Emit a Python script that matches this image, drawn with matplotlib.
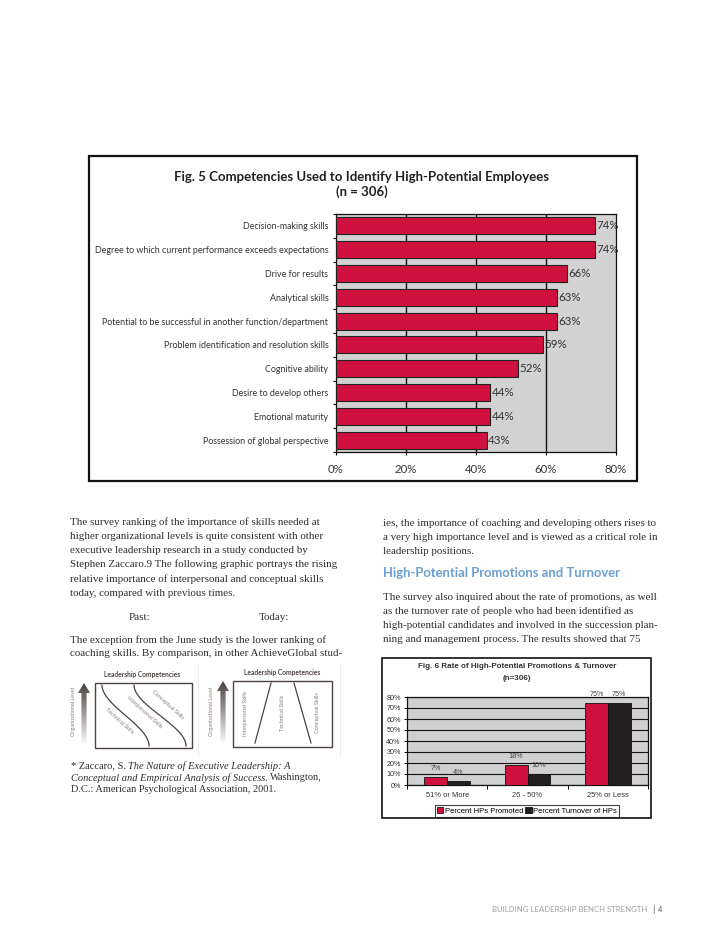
import matplotlib
matplotlib.use('Agg')
import matplotlib.pyplot as plt
import numpy as np
from matplotlib.patches import Rectangle, Polygon

W, H = 728, 942

# ---------------- data ----------------
competencies = [
    "Decision-making skills",
    "Degree to which current performance exceeds expectations",
    "Drive for results",
    "Analytical skills",
    "Potential to be successful in another function/department",
    "Problem identification and resolution skills",
    "Cognitive ability",
    "Desire to develop others",
    "Emotional maturity",
    "Possession of global perspective",
]
competency_pct = [74, 74, 66, 63, 63, 59, 52, 44, 44, 43]
fig5_xticks = [0, 20, 40, 60, 80]
fig5_xticklabels = ["0%", "20%", "40%", "60%", "80%"]

rate_categories = ["51% or More", "26 - 50%", "25% or Less"]
pct_promoted = [7, 18, 75]
pct_turnover = [4, 10, 75]
series_names = ["Percent HPs Promoted", "Percent Turnover of HPs"]
fig6_yticks = [0, 10, 20, 30, 40, 50, 60, 70, 80]
fig6_yticklabels = ["0%", "10%", "20%", "30%", "40%", "50%", "60%", "70%", "80%"]

RED = '#d0103e'
BLK = '#231f20'
TXT = '#2e2e2e'
SERIF = 'Liberation Serif'
BODY = 7.95

fig = plt.figure(figsize=(7.28, 9.42), dpi=100)


def rect(l, t, r, b):
    return [l / W, 1 - b / H, (r - l) / W, (b - t) / H]


# overlay axes in pixel coordinates
ov = fig.add_axes([0, 0, 1, 1], zorder=0)
ov.axis('off')
ov.set_xlim(0, W)
ov.set_ylim(H, 0)

# ---------------- Fig 5 ----------------
ov.add_patch(Rectangle((89, 156), 548, 325, fill=False, lw=1.6, ec='#111'))
ov.text(362, 177, "Fig. 5 Competencies Used to Identify High-Potential Employees",
        ha='center', va='center', fontsize=9.5, fontweight='bold', family='Lato', color='#222')
ov.text(362, 192, "(n = 306)", ha='center', va='center', fontsize=9.5,
        fontweight='bold', family='Lato', color='#222')

ax5 = fig.add_axes(rect(336, 214, 616, 452), zorder=1)
n = len(competencies)
yy = np.arange(n)
ax5.set_facecolor('#d2d2d2')
ax5.barh(yy, competency_pct, height=0.72, color=RED, edgecolor='#222', linewidth=0.8, zorder=3)
ax5.set_ylim(n - 0.5, -0.5)
ax5.set_xlim(0, 80)
for gx in fig5_xticks[1:-1]:
    ax5.axvline(gx, color='#111', lw=1.0, zorder=2)
ax5.set_xticks(fig5_xticks)
ax5.set_xticklabels(fig5_xticklabels, family='Lato', fontsize=8.2, color='#333')
ax5.tick_params(axis='x', length=2.5, width=0.8, pad=6)
ax5.set_yticks(yy)
ax5.set_yticklabels(competencies, fontsize=6.4, family='Lato', color='#333')
ax5.tick_params(axis='y', which='major', length=0, pad=5.5)
ax5.set_yticks(np.arange(n + 1) - 0.5, minor=True)
ax5.tick_params(axis='y', which='minor', length=2.5, width=0.8)
for s in ax5.spines.values():
    s.set_color('#111')
    s.set_linewidth(0.9)
for v, y in zip(competency_pct, yy):
    ax5.text(v + 0.5, y, f"{v}%", va='center', ha='left', fontsize=8.3, family='Lato', color='#333', zorder=4)

# ---------------- body text ----------------
left_lines = [
    "The survey ranking of the importance of skills needed at",
    "higher organizational levels is quite consistent with other",
    "executive leadership research in a study conducted by",
    "Stephen Zaccaro.9 The following graphic portrays the rising",
    "relative importance of interpersonal and conceptual skills",
    "today, compared with previous times.",
]
for i, t in enumerate(left_lines):
    ov.text(70, 522 + i * 14.2, t, ha='left', va='center', fontsize=BODY, family=SERIF, color=TXT)
ov.text(129, 617, "Past:", ha='left', va='center', fontsize=BODY, family=SERIF, color=TXT)
ov.text(259, 617, "Today:", ha='left', va='center', fontsize=BODY, family=SERIF, color=TXT)
for i, t in enumerate(["The exception from the June study is the lower ranking of",
                       "coaching skills. By comparison, in other AchieveGlobal stud-"]):
    ov.text(70, 640 + i * 14, t, ha='left', va='center', fontsize=BODY, family=SERIF, color=TXT)

right_top = [
    "ies, the importance of coaching and developing others rises to",
    "a very high importance level and is viewed as a critical role in",
    "leadership positions.",
]
for i, t in enumerate(right_top):
    ov.text(383, 523 + i * 14, t, ha='left', va='center', fontsize=BODY, family=SERIF, color=TXT)
ov.text(383, 573, "High-Potential Promotions and Turnover", ha='left', va='center',
        fontsize=9.4, family='Lato', fontweight='bold', color='#6a9fcf')
right_bottom = [
    "The survey also inquired about the rate of promotions, as well",
    "as the turnover rate of people who had been identified as",
    "high-potential candidates and involved in the succession plan-",
    "ning and management process. The results showed that 75",
]
for i, t in enumerate(right_bottom):
    ov.text(383, 597 + i * 14.2, t, ha='left', va='center', fontsize=BODY, family=SERIF, color=TXT)

# footnote with italic pieces
renderer = fig.canvas.get_renderer()


def pieces(x, y, parts):
    for txt, style in parts:
        t = ov.text(x, y, txt, ha='left', va='center', fontsize=7.5, family=SERIF,
                    style=style, color=TXT)
        bb = t.get_window_extent(renderer=renderer)
        x += bb.width + 2.4


pieces(71, 766, [("* Zaccaro, S.", 'normal'), ("The Nature of Executive Leadership: A", 'italic')])
pieces(71, 778, [("Conceptual and Empirical Analysis of Success.", 'italic'), ("Washington,", 'normal')])
pieces(71, 790, [("D.C.: American Psychological Association, 2001.", 'normal')])

# ---------------- diagrams ----------------
DC = '#4d4340'
LC = '#8a7f7a'


def grad_arrow(xc, ytip, ybot):
    poly = Polygon([(xc, ytip), (xc + 6, ytip + 10), (xc + 2.6, ytip + 10), (xc + 2.6, ybot),
                    (xc - 2.6, ybot), (xc - 2.6, ytip + 10), (xc - 6, ytip + 10)],
                   closed=True, fc='none', ec='none', transform=ov.transData)
    ov.add_patch(poly)
    g = np.linspace(0, 1, 100).reshape(-1, 1)
    cols = np.zeros((100, 1, 3))
    dark = np.array([0x4a, 0x40, 0x3c]) / 255
    light = np.array([0.97, 0.96, 0.96])
    cols[:, 0, :] = dark * (1 - g) + light * g
    im = ov.imshow(cols, extent=(xc - 6, xc + 6, ybot, ytip), origin='upper', aspect='auto', zorder=1)
    im.set_clip_path(poly)


# left diagram
ov.text(142, 675, "Leadership Competencies", ha='center', va='center', fontsize=4.8,
        fontweight='bold', family='Lato', color=DC)
ov.add_patch(Rectangle((95, 683), 97, 65, fill=False, lw=1.0, ec=DC))
grad_arrow(84, 683, 743)
ov.text(73, 712, "Organizational Level", rotation=90, ha='center', va='center', fontsize=4.0,
        family='Lato', color=LC)
tt = np.linspace(0, 1, 100)
s = 3 * tt ** 2 - 2 * tt ** 3
for (x0, y0, x1, y1) in [(102, 685, 149, 746), (134, 685, 186, 746)]:
    ov.plot(x0 + (x1 - x0) * s, y0 + (y1 - y0) * tt, color=DC, lw=0.9)
ov.text(119, 721, "Technical Skills", rotation=-42, ha='center', va='center', fontsize=4.0,
        family='Lato', color=LC)
ov.text(144, 712, "Interpersonal Skills", rotation=-42, ha='center', va='center', fontsize=4.0,
        family='Lato', color=LC)
ov.text(168, 705, "Conceptual Skills", rotation=-42, ha='center', va='center', fontsize=4.0,
        family='Lato', color=LC)

# right diagram
ov.text(282, 673, "Leadership Competencies", ha='center', va='center', fontsize=4.8,
        fontweight='bold', family='Lato', color=DC)
ov.add_patch(Rectangle((233, 681), 99, 66, fill=False, lw=1.0, ec=DC))
grad_arrow(223, 681, 742)
ov.text(211, 712, "Organizational Level", rotation=90, ha='center', va='center', fontsize=4.0,
        family='Lato', color=LC)
ov.plot([271, 255], [683, 743], color=DC, lw=0.9)
ov.plot([294, 311], [683, 743], color=DC, lw=0.9)
ov.text(245, 713, "Interpersonal Skills", rotation=90, ha='center', va='center', fontsize=4.0,
        family='Lato', color=LC)
ov.text(283, 713, "Technical Skills", rotation=90, ha='center', va='center', fontsize=4.0,
        family='Lato', color=LC)
ov.text(318, 713, "Conceptual Skills", rotation=90, ha='center', va='center', fontsize=4.0,
        family='Lato', color=LC)
ov.plot([198, 198], [664, 756], color='#ececec', lw=0.8)
ov.plot([340, 340], [664, 756], color='#ececec', lw=0.8)

# ---------------- Fig 6 ----------------
ov.add_patch(Rectangle((382, 658), 269, 160, fill=False, lw=1.2, ec='#111'))
ov.text(517, 667, "Fig. 6 Rate of High-Potential Promotions & Turnover", ha='center', va='center',
        fontsize=5.8, fontweight='bold', family='Liberation Sans', color='#333')
ov.text(517, 678.5, "(n=306)", ha='center', va='center',
        fontsize=5.8, fontweight='bold', family='Liberation Sans', color='#333')

ax6 = fig.add_axes(rect(407, 697, 648, 785), zorder=1)
xc = np.arange(len(rate_categories))
bw = 0.285
ax6.set_facecolor('#d0d0d0')
ax6.bar(xc - bw / 2, pct_promoted, bw, color=RED, edgecolor='#111', lw=0.6, zorder=3)
ax6.bar(xc + bw / 2, pct_turnover, bw, color=BLK, edgecolor='#111', lw=0.6, zorder=3)
ax6.set_xlim(-0.5, len(rate_categories) - 0.5)
ax6.set_ylim(0, 80)
ax6.set_yticks(fig6_yticks)
ax6.set_yticklabels(fig6_yticklabels, family='Liberation Sans', fontsize=5.2, color='#333')
ax6.yaxis.grid(True, color='#111', lw=0.8)
ax6.set_axisbelow(True)
ax6.tick_params(axis='y', length=2.5, width=0.7, pad=2)
ax6.set_xticks(xc)
ax6.set_xticklabels(rate_categories, family='Liberation Sans', fontsize=5.4, color='#333')
ax6.tick_params(axis='x', which='major', length=0, pad=5)
ax6.set_xticks(np.arange(len(rate_categories) + 1) - 0.5, minor=True)
ax6.tick_params(axis='x', which='minor', length=3, width=0.7)
for s_ in ax6.spines.values():
    s_.set_color('#111')
    s_.set_linewidth(0.9)
for x, v in zip(xc - bw / 2, pct_promoted):
    ax6.annotate(f"{v}%", (x, v), xytext=(0, 3.5), textcoords='offset points', ha='center',
                 va='bottom', fontsize=5.2, family='Liberation Sans', color='#444')
for x, v in zip(xc + bw / 2, pct_turnover):
    ax6.annotate(f"{v}%", (x, v), xytext=(0, 3.5), textcoords='offset points', ha='center',
                 va='bottom', fontsize=5.2, family='Liberation Sans', color='#444')

handles = [Rectangle((0, 0), 1, 1, fc=RED, ec='#111', lw=0.6),
           Rectangle((0, 0), 1, 1, fc=BLK, ec='#111', lw=0.6)]
leg = fig.legend(handles, series_names, loc='center', bbox_to_anchor=(527 / W, 1 - 811 / H), ncol=2,
                 frameon=True, fancybox=False, edgecolor='#111',
                 prop=dict(family='Liberation Sans', size=5.5),
                 handlelength=0.8, handleheight=0.8, handletextpad=0.2, columnspacing=0.3,
                 borderpad=0.25, borderaxespad=0)
leg.get_frame().set_linewidth(0.8)

# ---------------- footer ----------------
ov.text(492, 909, "BUILDING LEADERSHIP BENCH STRENGTH", ha='left', va='center', fontsize=5.6,
        family='Lato', color='#a0a0a0')
ov.text(653, 909, "|", ha='center', va='center', fontsize=6.5, family='Lato', color='#555')
ov.text(660, 909, "4", ha='center', va='center', fontsize=5.3, family='Lato', color='#555')

ov.set_xlim(0, W)
ov.set_ylim(H, 0)

fig.savefig('out.png', dpi=100)
